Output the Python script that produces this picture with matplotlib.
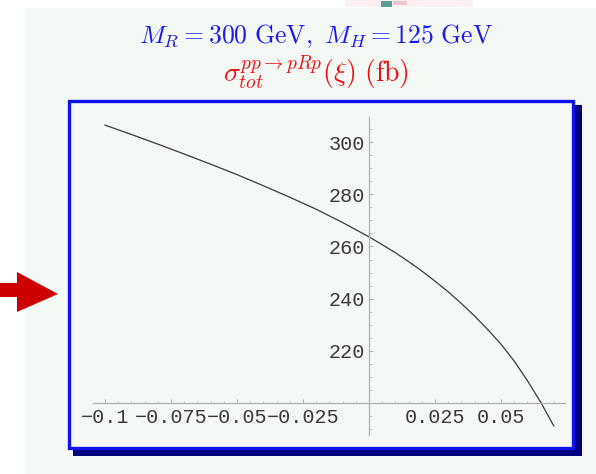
import matplotlib
matplotlib.use("Agg")
import matplotlib.pyplot as plt
from matplotlib.patches import Rectangle, Polygon
from matplotlib.ticker import FixedLocator, MultipleLocator

# Total cross section sigma_tot(pp -> pRp) versus the mixing parameter xi
xi = [-0.10, -0.09, -0.08, -0.07, -0.06, -0.05, -0.04, -0.03, -0.02, -0.01,
      0.000, 0.005, 0.010, 0.015, 0.020, 0.025, 0.030, 0.035, 0.040, 0.045,
      0.050, 0.055, 0.060, 0.065, 0.070]
sigma_fb = [306.6, 303.0, 299.3, 295.5, 291.6, 287.6, 283.3, 278.9, 274.3, 269.2,
            263.7, 260.7, 257.6, 254.2, 250.6, 246.7, 242.6, 238.1, 233.3, 228.1,
            222.5, 216.0, 208.5, 200.3, 191.1]

x_ticks = [-0.1, -0.075, -0.05, -0.025, 0.025, 0.05]
x_tick_labels = ["\u22120.1", "\u22120.075", "\u22120.05", "\u22120.025", "0.025", "0.05"]
y_ticks = [220, 240, 260, 280, 300]
y_tick_labels = ["220", "240", "260", "280", "300"]

title_line1 = r"$M_R = 300\ \mathrm{GeV},\ M_H = 125\ \mathrm{GeV}$"
title_line2 = r"$\sigma_{tot}^{pp\to pRp}(\xi)\ (\mathrm{fb})$"

plt.rcParams["mathtext.fontset"] = "cm"

W, H = 596, 474
fig = plt.figure(figsize=(W / 100, H / 100), dpi=100)
fig.patch.set_facecolor("white")

# Slide layer in pixel coordinates
bg = fig.add_axes([0, 0, 1, 1])
bg.set_xlim(0, W)
bg.set_ylim(H, 0)
bg.axis("off")

slide_col = "#f4f9f6"
bg.add_patch(Rectangle((25, 8), W - 25, H - 8, facecolor=slide_col, edgecolor="none"))

# fragment of a graphic peeking in at the top edge
bg.add_patch(Rectangle((345, 0), 128, 7, facecolor="#fbf0f1", edgecolor="none"))
bg.add_patch(Rectangle((381, 1), 11, 6, facecolor="#5a9e98", edgecolor="none"))
bg.add_patch(Rectangle((393, 1), 14, 4, facecolor="#f0c4c8", edgecolor="none"))

# red pointer arrow
bg.add_patch(Polygon([(0, 283), (17, 283), (17, 272), (58, 294),
                      (17, 312), (17, 297), (0, 297)],
                     closed=True, facecolor="#cc0000", edgecolor="none"))

# framed panel with a dark drop shadow
bg.add_patch(Rectangle((73, 105), 509, 351, facecolor="#000080", edgecolor="none"))
bg.add_patch(Rectangle((69, 100.5), 504, 347.5, facecolor=slide_col,
                       edgecolor="#1010f0", linewidth=2.4))

# titles
fig.text(316 / W, 1 - 36 / H, title_line1, color="#1a1af0", fontsize=18.5,
         ha="center", va="center")
fig.text(316 / W, 1 - 73 / H, title_line2, color="#f01010", fontsize=20,
         ha="center", va="center")

# Plot axes: Mathematica-style axes crossing at (0, 200)
x0, x1 = -0.1046, 0.0744
y0, y1 = 187.7, 309.6
ax = fig.add_axes([92.9 / W, 1 - 434.8 / H, (565.4 - 92.9) / W, (434.8 - 117.3) / H])
ax.set_facecolor("none")
ax.set_xlim(x0, x1)
ax.set_ylim(y0, y1)

ax.plot(xi, sigma_fb, color="#3a3a3a", linewidth=0.9)

for s in ("top", "right"):
    ax.spines[s].set_visible(False)
ax.spines["left"].set_position(("data", 0))
ax.spines["bottom"].set_position(("data", 200))
for s in ("left", "bottom"):
    ax.spines[s].set_color("#b0b0b0")
    ax.spines[s].set_linewidth(0.9)

ax.xaxis.set_major_locator(FixedLocator(x_ticks))
ax.set_xticklabels(x_tick_labels)
ax.xaxis.set_minor_locator(MultipleLocator(0.005))
ax.yaxis.set_major_locator(FixedLocator(y_ticks))
ax.set_yticklabels(y_tick_labels)
ax.yaxis.set_minor_locator(MultipleLocator(5))

for lab in ax.get_xticklabels() + ax.get_yticklabels():
    lab.set_fontfamily("Liberation Mono")
    lab.set_fontsize(14.5)
    lab.set_color("#383838")

ax.tick_params(which="major", direction="in", length=3.0, width=0.8, color="#b0b0b0")
ax.tick_params(which="minor", direction="in", length=1.8, width=0.7, color="#c0c0c0")
ax.tick_params(axis="x", which="major", pad=4)
ax.tick_params(axis="y", which="major", pad=3)

fig.savefig("out.png", dpi=100, facecolor="white")
